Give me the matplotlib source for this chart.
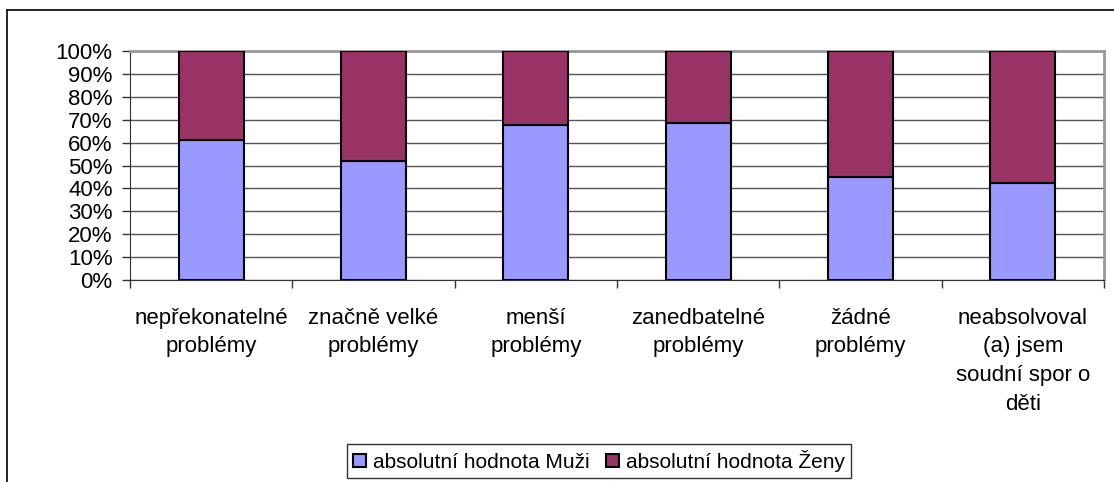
import matplotlib
matplotlib.use("Agg")
import matplotlib.pyplot as plt
from matplotlib.patches import Patch
from matplotlib.lines import Line2D
from matplotlib.ticker import FixedLocator, PercentFormatter

plt.rcParams['font.family'] = ['Liberation Sans', 'DejaVu Sans']

categories = ["nepřekonatelné\nproblémy", "značně velké\nproblémy", "menší\nproblémy",
              "zanedbatelné\nproblémy", "žádné\nproblémy",
              "neabsolvoval\n(a) jsem\nsoudní spor o\nděti"]
muzi = [61.3, 51.8, 67.9, 68.6, 45.0, 42.4]
zeny = [100 - v for v in muzi]
series_names = ["absolutní hodnota Muži", "absolutní hodnota Ženy"]
colors = ["#9999FF", "#993366"]
yticks = list(range(0, 101, 10))

FS = 16
W, H = 1114, 482
fig = plt.figure(figsize=(W / 100, H / 100), dpi=100)
ax = fig.add_axes([130 / W, 1 - 280 / H, (1104 - 130) / W, (280 - 51) / H])

x = list(range(len(categories)))
ax.bar(x, muzi, width=0.4, color=colors[0], edgecolor="black", linewidth=1.5, zorder=3)
ax.bar(x, zeny, width=0.4, bottom=muzi, color=colors[1], edgecolor="black", linewidth=1.5, zorder=3)

ax.set_xlim(-0.5, len(categories) - 0.5)
ax.set_ylim(0, 100)
ax.set_yticks(yticks)
ax.yaxis.set_major_formatter(PercentFormatter(decimals=0))
ax.grid(axis="y", color="#555555", linewidth=1, zorder=0)
ax.set_xticks(x)
ax.set_xticklabels(categories, fontsize=FS, linespacing=1.48)
ax.xaxis.set_minor_locator(FixedLocator([i + 0.5 for i in range(-1, len(categories))]))
ax.tick_params(axis="x", which="major", length=0, pad=20)
ax.tick_params(axis="x", which="minor", length=6, width=1, color="#333333", direction="out")
ax.tick_params(axis="y", length=6, width=1, color="#333333", pad=6.5, labelsize=FS)

ax.spines["left"].set_color("#333333")
ax.spines["bottom"].set_color("#333333")
for s in ["top", "right"]:
    ax.spines[s].set_color("#999999")
    ax.spines[s].set_linewidth(2)
    ax.spines[s].set_zorder(2.5)

# outer chart frame
fig.add_artist(Line2D([7 / W, 7 / W], [0, 1 - 10 / H], transform=fig.transFigure, color="black", lw=1.2))
fig.add_artist(Line2D([7 / W, 1], [1 - 10 / H, 1 - 10 / H], transform=fig.transFigure, color="black", lw=1.2))

handles = [Patch(facecolor=c, edgecolor="black", linewidth=1.5) for c in colors]
leg = fig.legend(handles, series_names, loc="center", bbox_to_anchor=(599 / W, 1 - 461 / H),
                 ncol=2, fontsize=15, frameon=True, fancybox=False, borderpad=0.3,
                 handlelength=0.62, handleheight=0.62, handletextpad=0.34, columnspacing=0.8,
                 borderaxespad=0)
leg.get_frame().set_edgecolor("black")
leg.get_frame().set_linewidth(1)

fig.savefig("out.png", dpi=100)
